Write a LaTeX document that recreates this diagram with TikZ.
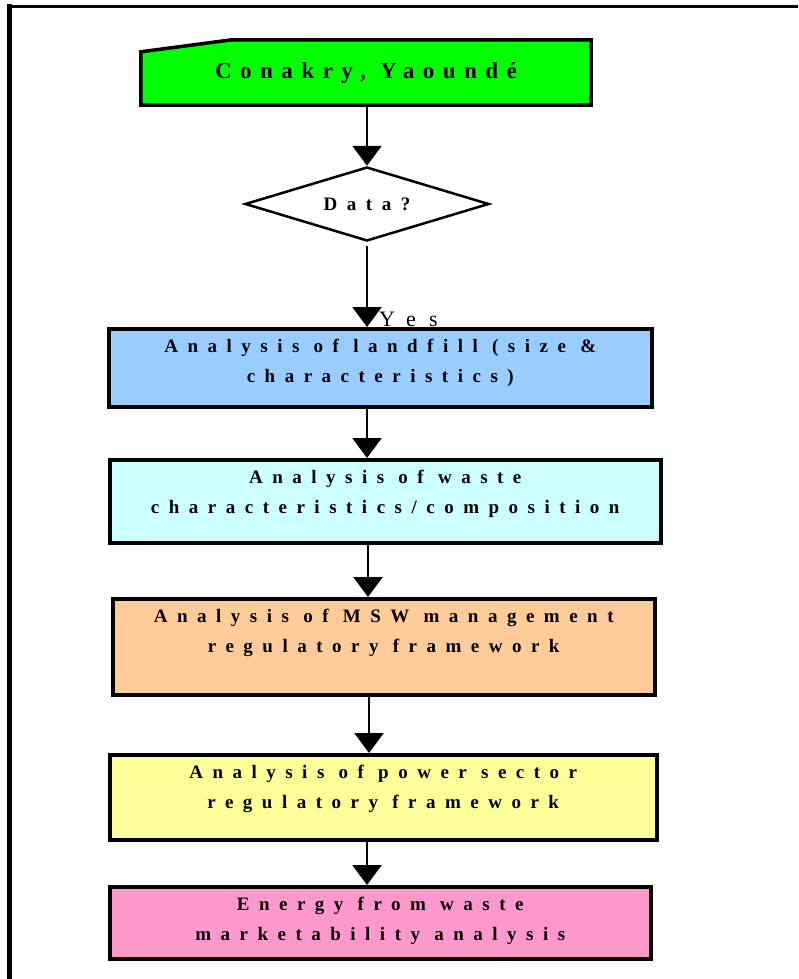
\documentclass[tikz,border=0pt]{standalone}
\usepackage{fontspec}
\setmainfont{Liberation Serif}
\newfontfamily\boxfont[LetterSpace=50]{Liberation Serif}
\newfontfamily\titlefont[LetterSpace=37]{Liberation Serif}
\newfontfamily\yesfont[LetterSpace=60]{Liberation Serif}
\usetikzlibrary{arrows.meta,shapes.geometric,backgrounds}
\definecolor{cgreen}{RGB}{0,255,0}
\definecolor{cblue}{RGB}{153,204,255}
\definecolor{ccyan}{RGB}{204,255,255}
\definecolor{corange}{RGB}{255,204,153}
\definecolor{cyellow}{RGB}{255,255,153}
\definecolor{cpink}{RGB}{255,153,204}
\newcommand\myboxtext[3]{\parbox[c][#1][t]{#2}{\boxfont\bfseries\fontsize{19}{30}\selectfont\vspace*{10pt}\centering #3\par}}
\begin{document}
\begin{tikzpicture}[x=1pt,y=-1pt,
  stepbox/.style={draw=black, line width=3.5pt, inner sep=0pt, anchor=north west},
  conn/.style={line width=2.5pt, -{Triangle[width=29pt,length=20pt]}}]
\useasboundingbox (0,0) rectangle (798,979);
% frame
\draw[line width=5pt] (9.5,979) -- (9.5,4);
\draw[line width=3.5pt] (7,6.5) -- (798,6.5);
% start
\node[minimum width=450pt, minimum height=65pt, inner sep=0pt] (start) at (366,72.5)
  {\titlefont\bfseries\fontsize{23}{24}\selectfont Conakry, Yaoundé};
\begin{scope}[on background layer]
\draw[fill=cgreen, line width=3.5pt, line join=miter]
  (start.south west) -- ([yshift=-12pt]start.north west) -- ([xshift=91pt]start.north west)
  -- (start.north east) -- (start.south east) -- cycle;
\end{scope}
% decision
\node[diamond, aspect=3.3, draw=black, line width=2.5pt, fill=white, minimum width=244pt,
  minimum height=74pt, inner sep=0pt] (dec) at (367,204)
  {\boxfont\bfseries\fontsize{19}{22}\selectfont Data?};
% boxes
\node[stepbox, fill=cblue] (b1) at (107,327) {\myboxtext{78pt}{543pt}{Analysis of landfill (size \&\\characteristics)}};
\node[stepbox, fill=ccyan] (b2) at (108,458) {\myboxtext{83pt}{551pt}{Analysis of waste\\characteristics/composition}};
\node[stepbox, fill=corange] (b3) at (111,597) {\myboxtext{96pt}{542pt}{Analysis of MSW management\\regulatory framework}};
\node[stepbox, fill=cyellow] (b4) at (108,753) {\myboxtext{85pt}{547pt}{Analysis of power sector\\regulatory framework}};
\node[stepbox, fill=cpink] (b5) at (108,885) {\myboxtext{72pt}{541pt}{Energy from waste\\marketability analysis}};
% yes label
\node[anchor=base west, inner sep=0pt] (yes) at (379,326) {\yesfont\fontsize{22}{24}\selectfont Yes};
% connectors
\draw[conn] (start.south -| dec.north) -- (dec.north);
\draw[conn] ([yshift=-4pt]dec.south) -- (b1.north -| dec.south);
\draw[conn] (b1.south -| dec.south) -- (b2.north -| dec.south);
\draw[conn] ([xshift=1pt]b2.south -| dec.south) -- ([xshift=1pt]b3.north -| dec.south);
\draw[conn] ([xshift=2pt]b3.south -| dec.south) -- ([xshift=2pt]b4.north -| dec.south);
\draw[conn] (b4.south -| dec.south) -- (b5.north -| dec.south);
\end{tikzpicture}
\end{document}
